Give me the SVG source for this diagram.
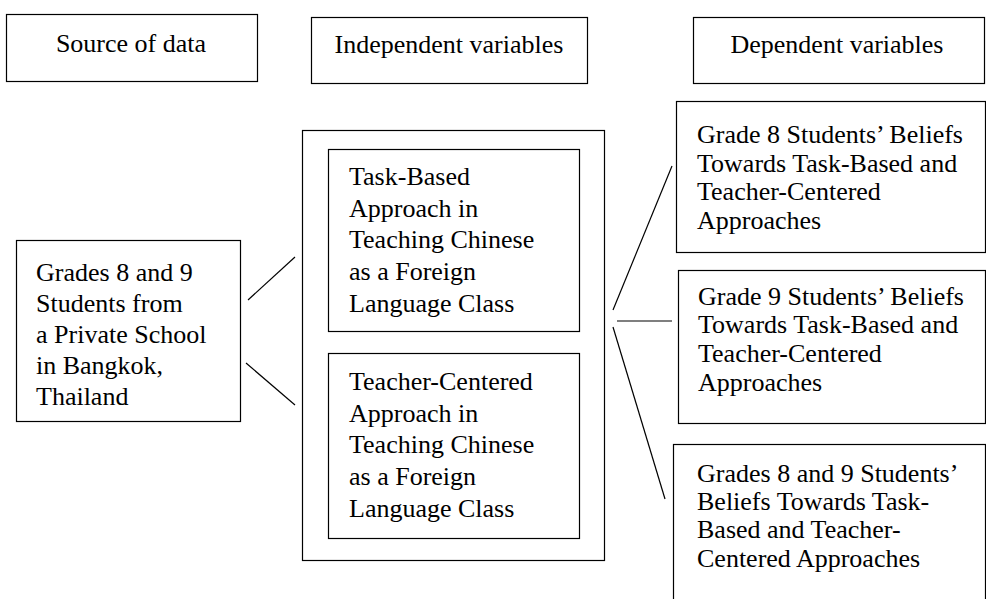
<svg xmlns="http://www.w3.org/2000/svg" width="986" height="599" viewBox="0 0 986 599">
<style>
.box{fill:#fff;stroke:#000;stroke-width:1.2}
.t{font-family:"Liberation Serif","Times New Roman",serif;font-size:26px;fill:#000}
.c{stroke:#000;stroke-width:1.2;fill:none}
</style>
<rect width="986" height="599" fill="#fff"/>
<g id="source-header"><rect class="box" x="6.5" y="14.5" width="251" height="67"/><text class="t" x="131" y="52" text-anchor="middle">Source of data</text></g>
<g id="independent-header"><rect class="box" x="311.5" y="17.5" width="276" height="66"/><text class="t" x="449" y="53" text-anchor="middle">Independent variables</text></g>
<g id="dependent-header"><rect class="box" x="693.5" y="17.5" width="291" height="66"/><text class="t" x="837" y="53" text-anchor="middle">Dependent variables</text></g>
<g id="source"><rect class="box" x="16.5" y="240.5" width="224" height="181"/>
<text class="t" x="36"><tspan x="36" y="281">Grades 8 and 9</tspan><tspan x="36" y="312">Students from</tspan><tspan x="36" y="343">a Private School</tspan><tspan x="36" y="374">in Bangkok,</tspan><tspan x="36" y="405">Thailand</tspan></text></g>
<g id="independent-group"><rect class="box" x="302.5" y="130.5" width="302" height="430"/></g>
<g id="task-based"><rect class="box" x="328.5" y="149.5" width="251" height="182"/>
<text class="t"><tspan x="349" y="185">Task-Based</tspan><tspan x="349" y="217">Approach in</tspan><tspan x="349" y="248">Teaching Chinese</tspan><tspan x="349" y="280">as a Foreign</tspan><tspan x="349" y="312">Language Class</tspan></text></g>
<g id="teacher-centered"><rect class="box" x="328.5" y="353.5" width="251" height="185"/>
<text class="t"><tspan x="349" y="390">Teacher-Centered</tspan><tspan x="349" y="422">Approach in</tspan><tspan x="349" y="453">Teaching Chinese</tspan><tspan x="349" y="485">as a Foreign</tspan><tspan x="349" y="517">Language Class</tspan></text></g>
<g id="grade8"><rect class="box" x="676.5" y="101.5" width="309" height="151"/>
<text class="t"><tspan x="697" y="143">Grade 8 Students’ Beliefs</tspan><tspan x="697" y="172">Towards Task-Based and</tspan><tspan x="697" y="200">Teacher-Centered</tspan><tspan x="697" y="229">Approaches</tspan></text></g>
<g id="grade9"><rect class="box" x="678.5" y="270.5" width="307" height="153"/>
<text class="t"><tspan x="698" y="305">Grade 9 Students’ Beliefs</tspan><tspan x="698" y="333">Towards Task-Based and</tspan><tspan x="698" y="362">Teacher-Centered</tspan><tspan x="698" y="391">Approaches</tspan></text></g>
<g id="grades89"><rect class="box" x="673.5" y="444.5" width="312" height="170"/>
<text class="t"><tspan x="697" y="482">Grades 8 and 9 Students’</tspan><tspan x="697" y="510">Beliefs Towards Task-</tspan><tspan x="697" y="538">Based and Teacher-</tspan><tspan x="697" y="567">Centered Approaches</tspan></text></g>
<g id="connectors">
<line class="c" x1="248" y1="300" x2="295" y2="257"/>
<line class="c" x1="246" y1="363" x2="295" y2="405"/>
<line class="c" x1="613" y1="310" x2="672" y2="166"/>
<line class="c" x1="617" y1="321" x2="672" y2="321"/>
<line class="c" x1="613" y1="327" x2="665" y2="499"/>
</g>
</svg>
